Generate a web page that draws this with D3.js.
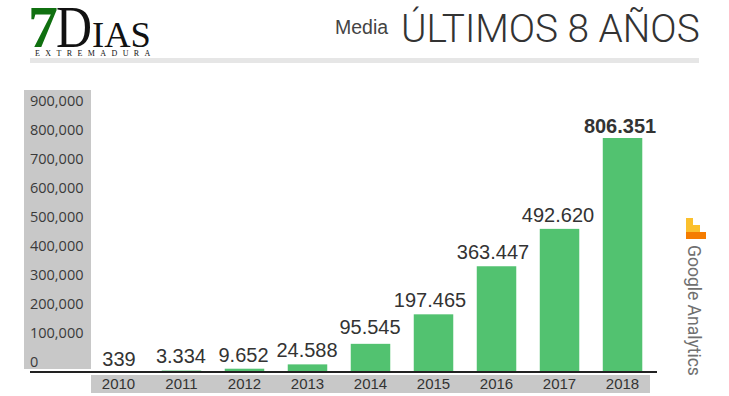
<!DOCTYPE html>
<html>
<head>
<meta charset="utf-8">
<script src="https://d3js.org/d3.v7.min.js"></script>
<style>
  html, body { margin: 0; padding: 0; background: #fff; }
  svg { display: block; }
</style>
</head>
<body>
<svg id="chart"></svg>
<script>
  const YEARS = ["2010", "2011", "2012", "2013", "2014", "2015", "2016", "2017", "2018"];
  const VALUES = [339, 3334, 9652, 24588, 95545, 197465, 363447, 492620, 806351];
  const VALUE_LABELS = ["339", "3.334", "9.652", "24.588", "95.545", "197.465", "363.447", "492.620", "806.351"];
  const Y_TICKS = [0, 100000, 200000, 300000, 400000, 500000, 600000, 700000, 800000, 900000];

  const WIDTH = 729;
  const HEIGHT = 396;
  const SANS = "'Liberation Sans', Arial, sans-serif";

  // the labels were placed by hand in the original, so each one gets its own nudge
  const LABEL_DX = [0.5, -0.5, -1, -0.5, -0.5, -3.5, -3.5, -1.5, -2.5];
  const LABEL_DY = [-5.5, -7.5, -7, -7.5, -10, -7.5, -7.5, -7, -5.5];

  const svg = d3.select("#chart").attr("width", WIDTH).attr("height", HEIGHT);

  const xScale = d3.scaleBand().domain(YEARS).range([87, 654]).paddingInner(0.373).paddingOuter(0.186);
  const yScale = d3.scaleLinear().domain([0, 900000]).range([371.5, 110.9]);

  // header rule
  svg.append("rect").attr("x", 30).attr("y", 58).attr("width", 669).attr("height", 5).attr("fill", "#e6e6e6");

  // logo
  const logo = svg.append("g").attr("font-family", "'Liberation Serif', serif").attr("fill", "#111");
  logo.append("text").attr("x", 28).attr("y", 47).attr("font-size", 60).attr("fill", "#107010")
    .attr("font-weight", "bold").text("7");
  logo.append("text").attr("x", 56).attr("y", 47).attr("font-size", 60)
    .attr("textLength", 36).attr("lengthAdjust", "spacingAndGlyphs").text("D");
  logo.append("text").attr("x", 92).attr("y", 47).attr("font-size", 36.5).text("IAS");
  logo.append("text").attr("x", 35).attr("y", 56).attr("font-size", 8).attr("letter-spacing", 5.4).text("EXTREMADURA");

  // title
  svg.append("text").attr("x", 335).attr("y", 34).attr("font-family", SANS).attr("font-size", 19.5)
    .attr("fill", "#444").text("Media");
  svg.append("text").attr("x", 401).attr("y", 42).attr("font-family", "Roboto, sans-serif").attr("font-weight", 300)
    .attr("font-size", 38.8).attr("fill", "#333").text("ÚLTIMOS 8 AÑOS");

  // grey panels behind axes
  svg.append("rect").attr("x", 24).attr("y", 90).attr("width", 67).attr("height", 279).attr("fill", "#c8c8c8");
  svg.append("rect").attr("x", 91).attr("y", 375).attr("width", 559).attr("height", 18).attr("fill", "#c8c8c8");

  // y axis, labels sit above their gridline position
  const yAxis = svg.append("g")
    .attr("transform", "translate(84,0)")
    .call(d3.axisLeft(yScale).tickValues(Y_TICKS).tickSize(0).tickPadding(0).tickFormat(d3.format(",")));
  yAxis.select(".domain").remove();
  yAxis.selectAll("text")
    .attr("x", null)
    .attr("text-anchor", "start")
    .attr("transform", "translate(-54,-10)")
    .attr("font-family", "'Open Sans', sans-serif")
    .attr("font-size", 14.5)
    .attr("fill", "#3a3a3a");

  // bars
  svg.selectAll(".bar")
    .data(VALUES)
    .enter()
    .append("rect")
    .classed("bar", true)
    .attr("x", (d, i) => xScale(YEARS[i]))
    .attr("y", d => yScale(d))
    .attr("width", xScale.bandwidth())
    .attr("height", d => yScale(0) - yScale(d))
    .attr("fill", "#52c270");

  // labels
  svg.selectAll(".label")
    .data(VALUES)
    .enter()
    .append("text")
    .classed("label", true)
    .text((d, i) => VALUE_LABELS[i])
    .attr("x", (d, i) => xScale(YEARS[i]) + xScale.bandwidth() / 2 + LABEL_DX[i])
    .attr("y", (d, i) => yScale(d) + LABEL_DY[i])
    .attr("text-anchor", "middle")
    .attr("font-family", SANS)
    .attr("font-size", 20)
    .attr("font-weight", (d, i) => i === VALUES.length - 1 ? "bold" : "normal")
    .attr("fill", "#333");

  // baseline
  svg.append("rect").attr("x", 30).attr("y", 371).attr("width", 627).attr("height", 2).attr("fill", "#222");

  // x axis
  const xAxis = svg.append("g")
    .attr("transform", "translate(0,378.5)")
    .call(d3.axisBottom(xScale).tickSize(0).tickPadding(0));
  xAxis.select(".domain").remove();
  xAxis.selectAll("text")
    .attr("font-family", SANS)
    .attr("font-size", 15)
    .attr("fill", "#333");

  // analytics mark
  const ga = svg.append("g");
  ga.append("rect").attr("x", 686).attr("y", 218).attr("width", 7).attr("height", 14).attr("fill", "#fbc02d");
  ga.append("rect").attr("x", 693).attr("y", 225).attr("width", 7).attr("height", 7).attr("fill", "#fbc02d");
  ga.append("rect").attr("x", 686).attr("y", 232).attr("width", 20).attr("height", 7).attr("fill", "#f57c00");
  svg.append("text")
    .attr("transform", "translate(688,245) rotate(90)")
    .attr("font-family", "Roboto, sans-serif")
    .attr("font-size", 17.5)
    .attr("fill", "#707070")
    .text("Google Analytics");
</script>
</body>
</html>
